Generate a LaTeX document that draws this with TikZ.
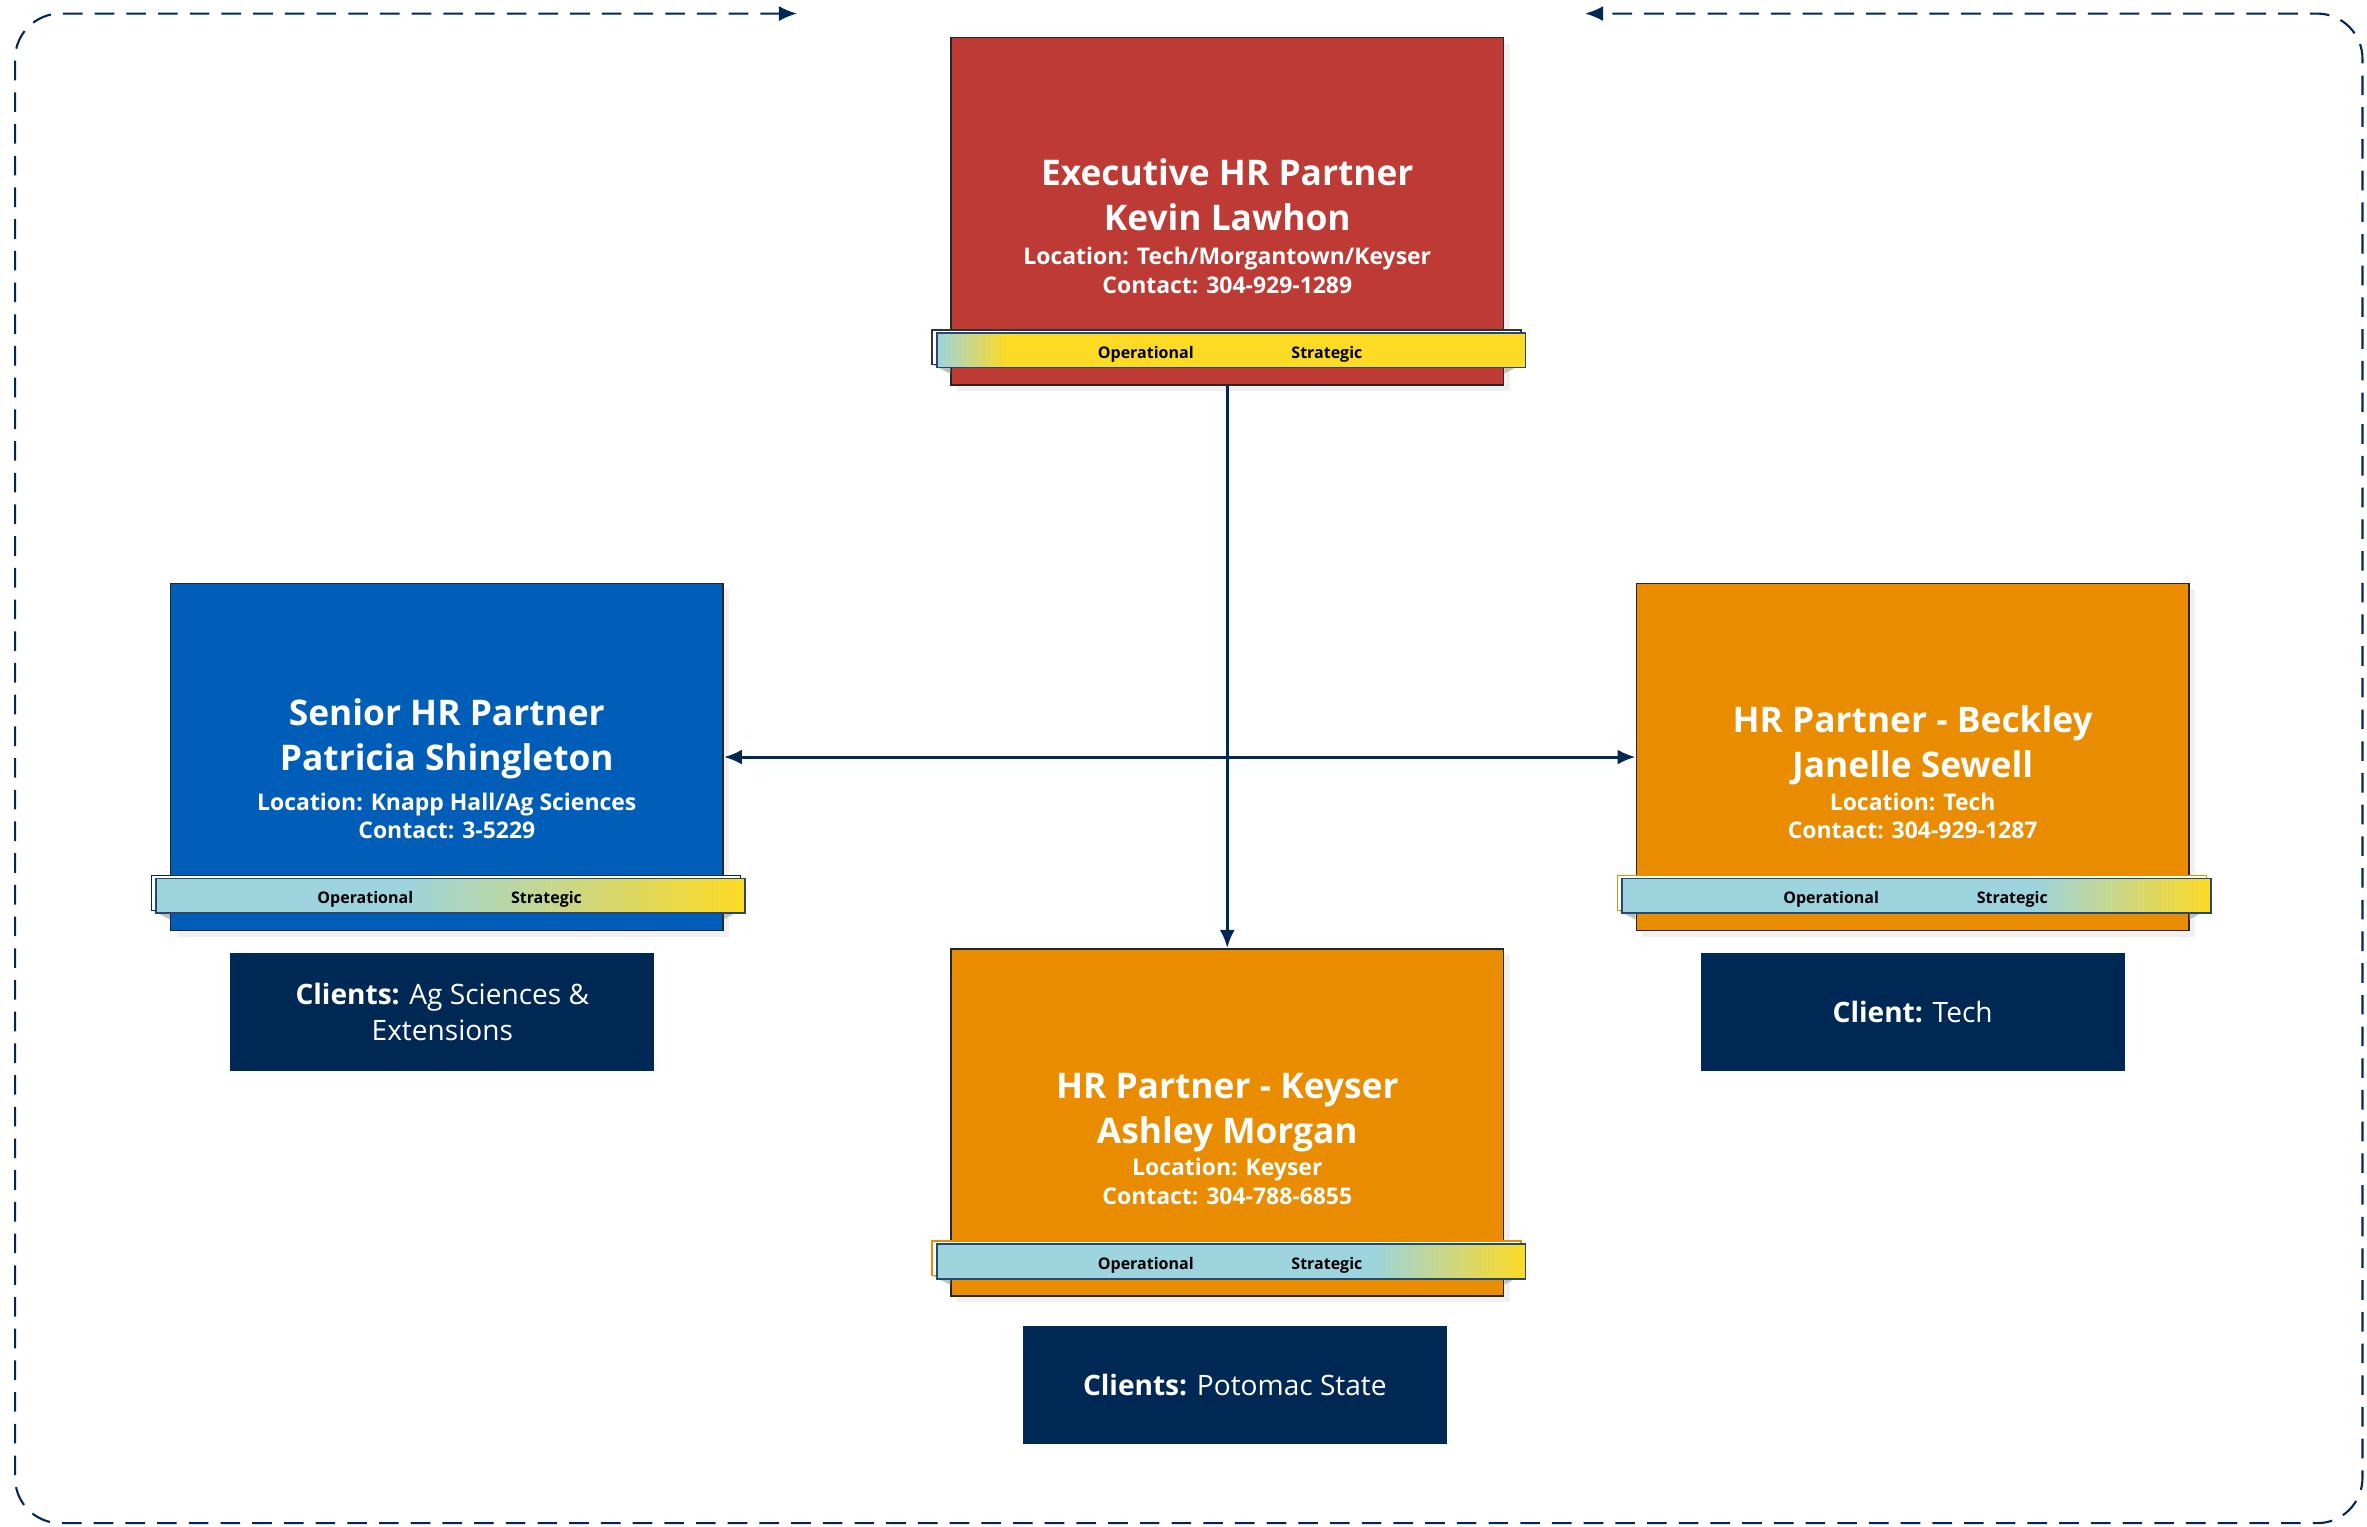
\documentclass[tikz,border=0pt]{standalone}
\usepackage{fontspec}
\setmainfont{Open Sans}
\usetikzlibrary{positioning,calc,arrows.meta,shadows}
\definecolor{execred}{HTML}{BE3A34}
\definecolor{seniorblue}{HTML}{005EB8}
\definecolor{partnerorange}{HTML}{EA8C00}
\definecolor{hrnavy}{HTML}{002855}
\definecolor{bandblue}{HTML}{9DD4DE}
\definecolor{bandyellow}{HTML}{FDDA24}
\pgfdeclarehorizontalshading{bandexec}{100bp}{color(0bp)=(bandblue); color(25bp)=(bandblue); color(31bp)=(bandyellow); color(100bp)=(bandyellow)}
\pgfdeclarehorizontalshading{bandsenior}{100bp}{color(0bp)=(bandblue); color(46bp)=(bandblue); color(75bp)=(bandyellow); color(100bp)=(bandyellow)}
\pgfdeclarehorizontalshading{bandbeckley}{100bp}{color(0bp)=(bandblue); color(60bp)=(bandblue); color(75bp)=(bandyellow); color(100bp)=(bandyellow)}
\pgfdeclarehorizontalshading{bandkeyser}{100bp}{color(0bp)=(bandblue); color(62bp)=(bandblue); color(75bp)=(bandyellow); color(100bp)=(bandyellow)}
\def\band#1#2#3{
\fill [black!25] ($(#1.south west)+(-12,-14)$) -- ($(#1.south west)+(0,-14)$) -- ($(#1.south west)+(0,-8)$) -- cycle
      ($(#1.south east)+(11,-14)$) -- ($(#1.south east)+(0,-14)$) -- ($(#1.south east)+(0,-8)$) -- cycle;
\filldraw [fill=white,draw=#3,line width=0.5pt] ($(#1.south west)+(-12,-37)$) rectangle ($(#1.south east)+(11,-14)$);
\shadedraw [shading=#2,draw=hrnavy!85,line width=0.6pt] ($(#1.south west)+(-9,-35)$) rectangle ($(#1.south east)+(14,-12)$);
\node [bandtext] (#1-op) at ($(#1.south)+(-54,-21)$) {Operational};
\node [bandtext] (#1-st) at ($(#1.south)+(66,-21)$) {Strategic};
}
\def\person#1#2#3#4{
\node [titletext] (#1-title) at ($(#1.center)+(0,#4)$) {#2};
\node [infotext] (#1-info) at ($(#1.center)+(0,39)$) {#3};
}
\tikzset{>={Latex[length=6pt,width=5pt]}}
\begin{document}
\begin{tikzpicture}[x=0.5pt,y=-0.5pt,
  persbox/.style={draw=black!85,line width=0.5pt,minimum width=183pt,minimum height=115pt,inner sep=0pt,
    drop shadow={shadow xshift=2pt,shadow yshift=-2pt,opacity=0.12}},
  titletext/.style={text=white,align=center,font=\fontsize{11.7}{15}\selectfont\bfseries},
  infotext/.style={text=white,align=center,font=\fontsize{7.6}{9.5}\selectfont\bfseries},
  bandtext/.style={text=black,font=\fontsize{5.3}{6}\selectfont\bfseries,inner sep=0pt},
  clientbox/.style={fill=hrnavy,text=white,minimum width=140.5pt,minimum height=39pt,align=center,
    font=\fontsize{9.3}{12}\selectfont},
  conn/.style={draw=hrnavy,line width=1pt}]
  \useasboundingbox (0,0) rectangle (1568,1011);
  \draw [hrnavy,line width=0.7pt,dash pattern=on 6.5pt off 4pt,rounded corners=15pt,<->]
        (528,9) -- (10,9) -- (10,1009) -- (1565,1009) -- (1565,9) -- (1050,9);

  \node [persbox,fill=execred] (exec) at (813,140) {};
  \node [persbox,fill=seniorblue] (senior) at (296,501.5) {};
  \node [persbox,fill=partnerorange] (beckley) at (1267,501.5) {};
  \node [persbox,fill=partnerorange] (keyser) at (813,743.5) {};

  \person{exec}{Executive HR Partner\\Kevin Lawhon}{Location: Tech/Morgantown/Keyser\\Contact: 304-929-1289}{-11}
  \person{senior}{Senior HR Partner\\Patricia Shingleton}{Location: Knapp Hall/Ag Sciences\\Contact: 3-5229}{-12}
  \person{beckley}{HR Partner - Beckley\\Janelle Sewell}{Location: Tech\\Contact: 304-929-1287}{-8}
  \person{keyser}{HR Partner - Keyser\\Ashley Morgan}{Location: Keyser\\Contact: 304-788-6855}{-6.5}

  \band{exec}{bandexec}{black!80}
  \band{senior}{bandsenior}{hrnavy}
  \band{beckley}{bandbeckley}{partnerorange}
  \band{keyser}{bandkeyser}{partnerorange}

  \node [clientbox,below=7pt of senior,xshift=-1.5pt] (senior-clients) {\textbf{Clients:} Ag Sciences \&\\Extensions};
  \node [clientbox,below=7pt of beckley] (beckley-clients) {\textbf{Client:} Tech};
  \node [clientbox,below=9.5pt of keyser,xshift=2.5pt] (keyser-clients) {\textbf{Clients:} Potomac State};

  \draw [conn,->] (exec) -- (keyser);
  \draw [conn,<->] (senior) -- (beckley);
\end{tikzpicture}
\end{document}
